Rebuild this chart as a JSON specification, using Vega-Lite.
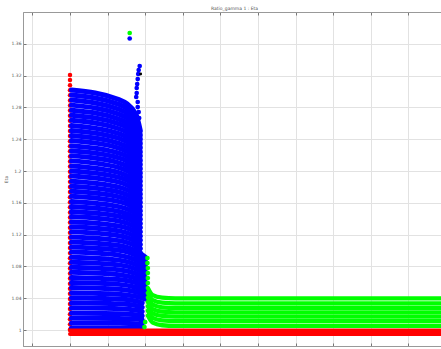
{
  "$schema": "https://vega.github.io/schema/vega-lite/v6.json",
  "autosize": "none",
  "width": 423,
  "height": 334,
  "padding": {"left": 23, "top": 12, "right": 0, "bottom": 3},
  "background": "white",
  "title": {"text": "Ratio_gamma 1 : Eta", "fontSize": 4.5, "font": "DejaVu Sans", "fontWeight": "normal", "color": "#555", "offset": 1.5, "anchor": "middle"},
  "config": {
    "view": {"stroke": "#999", "strokeWidth": 1},
    "axis": {"labelFont": "DejaVu Sans", "labelFontSize": 4.5, "labelColor": "#555", "labelOverlap": false, "titleFont": "DejaVu Sans", "titleFontSize": 4.5, "titleFontWeight": "normal", "titleColor": "#555", "gridColor": "#e2e2e2", "gridWidth": 1, "domainColor": "#999", "tickColor": "#777", "tickSize": -3, "labelPadding": 5}
  },
  "datasets": {
    "redcol": [
      {"x":1,"y":1.3208},{"x":1,"y":1.3144},{"x":1,"y":1.3080},{"x":1,"y":1.3016},{"x":1,"y":1.2952},{"x":1,"y":1.2888},{"x":1,"y":1.2824},{"x":1,"y":1.2760},{"x":1,"y":1.2696},{"x":1,"y":1.2632},{"x":1,"y":1.2568},{"x":1,"y":1.2504},{"x":1,"y":1.2440},{"x":1,"y":1.2376},{"x":1,"y":1.2312},{"x":1,"y":1.2248},{"x":1,"y":1.2184},{"x":1,"y":1.2120},{"x":1,"y":1.2056},{"x":1,"y":1.1992},{"x":1,"y":1.1928},{"x":1,"y":1.1864},{"x":1,"y":1.1800},{"x":1,"y":1.1736},{"x":1,"y":1.1672},{"x":1,"y":1.1608},{"x":1,"y":1.1544},{"x":1,"y":1.1480},{"x":1,"y":1.1416},{"x":1,"y":1.1352},{"x":1,"y":1.1288},{"x":1,"y":1.1224},{"x":1,"y":1.1160},{"x":1,"y":1.1096},{"x":1,"y":1.1032},{"x":1,"y":1.0968},{"x":1,"y":1.0904},{"x":1,"y":1.0840},{"x":1,"y":1.0776},{"x":1,"y":1.0712},{"x":1,"y":1.0648},{"x":1,"y":1.0584},{"x":1,"y":1.0520},{"x":1,"y":1.0456},{"x":1,"y":1.0392},{"x":1,"y":1.0328},{"x":1,"y":1.0264},{"x":1,"y":1.0200},{"x":1,"y":1.0136},{"x":1,"y":1.0072},{"x":1,"y":1.0008}
    ],
    "redlines": [
      {"c":0,"x":1,"y":0.9996},{"c":0,"x":11,"y":0.9996},
      {"c":1,"x":1,"y":0.9950},{"c":1,"x":11,"y":0.9950}
    ],
    "blue": [
      {"c":0,"x":1.04,"y":1.3020},{"c":0,"x":2.3,"y":1.2899},{"c":0,"x":2.75,"y":1.2718},{"c":0,"x":2.87,"y":1.2507},
      {"c":1,"x":1.04,"y":1.2956},{"c":1,"x":2.3,"y":1.2838},{"c":1,"x":2.75,"y":1.2660},{"c":1,"x":2.87,"y":1.2453},
      {"c":2,"x":1.04,"y":1.2893},{"c":2,"x":2.3,"y":1.2777},{"c":2,"x":2.75,"y":1.2604},{"c":2,"x":2.87,"y":1.2401},
      {"c":3,"x":1.04,"y":1.2829},{"c":3,"x":2.3,"y":1.2716},{"c":3,"x":2.75,"y":1.2546},{"c":3,"x":2.87,"y":1.2348},
      {"c":4,"x":1.04,"y":1.2765},{"c":4,"x":2.3,"y":1.2654},{"c":4,"x":2.75,"y":1.2489},{"c":4,"x":2.87,"y":1.2295},
      {"c":5,"x":1.04,"y":1.2701},{"c":5,"x":2.3,"y":1.2593},{"c":5,"x":2.75,"y":1.2431},{"c":5,"x":2.87,"y":1.2242},
      {"c":6,"x":1.04,"y":1.2638},{"c":6,"x":2.3,"y":1.2532},{"c":6,"x":2.75,"y":1.2374},{"c":6,"x":2.87,"y":1.2190},
      {"c":7,"x":1.04,"y":1.2574},{"c":7,"x":2.3,"y":1.2471},{"c":7,"x":2.75,"y":1.2317},{"c":7,"x":2.87,"y":1.2136},
      {"c":8,"x":1.04,"y":1.2510},{"c":8,"x":2.3,"y":1.2410},{"c":8,"x":2.75,"y":1.2259},{"c":8,"x":2.87,"y":1.2083},
      {"c":9,"x":1.04,"y":1.2447},{"c":9,"x":2.3,"y":1.2349},{"c":9,"x":2.75,"y":1.2202},{"c":9,"x":2.87,"y":1.2031},
      {"c":10,"x":1.04,"y":1.2383},{"c":10,"x":2.3,"y":1.2288},{"c":10,"x":2.75,"y":1.2145},{"c":10,"x":2.87,"y":1.1978},
      {"c":11,"x":1.04,"y":1.2319},{"c":11,"x":2.3,"y":1.2226},{"c":11,"x":2.75,"y":1.2087},{"c":11,"x":2.87,"y":1.1925},
      {"c":12,"x":1.04,"y":1.2255},{"c":12,"x":2.3,"y":1.2165},{"c":12,"x":2.75,"y":1.2030},{"c":12,"x":2.87,"y":1.1872},
      {"c":13,"x":1.04,"y":1.2192},{"c":13,"x":2.3,"y":1.2104},{"c":13,"x":2.75,"y":1.1973},{"c":13,"x":2.87,"y":1.1819},
      {"c":14,"x":1.04,"y":1.2128},{"c":14,"x":2.3,"y":1.2043},{"c":14,"x":2.75,"y":1.1915},{"c":14,"x":2.87,"y":1.1766},
      {"c":15,"x":1.04,"y":1.2064},{"c":15,"x":2.3,"y":1.1981},{"c":15,"x":2.75,"y":1.1858},{"c":15,"x":2.87,"y":1.1713},
      {"c":16,"x":1.04,"y":1.2000},{"c":16,"x":2.3,"y":1.1920},{"c":16,"x":2.75,"y":1.1800},{"c":16,"x":2.87,"y":1.1660},
      {"c":17,"x":1.04,"y":1.1937},{"c":17,"x":2.3,"y":1.1860},{"c":17,"x":2.75,"y":1.1743},{"c":17,"x":2.87,"y":1.1608},
      {"c":18,"x":1.04,"y":1.1873},{"c":18,"x":2.3,"y":1.1798},{"c":18,"x":2.75,"y":1.1686},{"c":18,"x":2.87,"y":1.1555},
      {"c":19,"x":1.04,"y":1.1809},{"c":19,"x":2.3,"y":1.1737},{"c":19,"x":2.75,"y":1.1628},{"c":19,"x":2.87,"y":1.1501},
      {"c":20,"x":1.04,"y":1.1746},{"c":20,"x":2.3,"y":1.1676},{"c":20,"x":2.75,"y":1.1571},{"c":20,"x":2.87,"y":1.1449},
      {"c":21,"x":1.04,"y":1.1682},{"c":21,"x":2.3,"y":1.1615},{"c":21,"x":2.75,"y":1.1514},{"c":21,"x":2.87,"y":1.1396},
      {"c":22,"x":1.04,"y":1.1618},{"c":22,"x":2.3,"y":1.1553},{"c":22,"x":2.75,"y":1.1456},{"c":22,"x":2.87,"y":1.1343},
      {"c":23,"x":1.04,"y":1.1554},{"c":23,"x":2.3,"y":1.1492},{"c":23,"x":2.75,"y":1.1399},{"c":23,"x":2.87,"y":1.1290},
      {"c":24,"x":1.04,"y":1.1491},{"c":24,"x":2.3,"y":1.1431},{"c":24,"x":2.75,"y":1.1342},{"c":24,"x":2.87,"y":1.1238},
      {"c":25,"x":1.04,"y":1.1427},{"c":25,"x":2.3,"y":1.1370},{"c":25,"x":2.75,"y":1.1284},{"c":25,"x":2.87,"y":1.1184},
      {"c":26,"x":1.04,"y":1.1363},{"c":26,"x":2.3,"y":1.1308},{"c":26,"x":2.75,"y":1.1227},{"c":26,"x":2.87,"y":1.1131},
      {"c":27,"x":1.04,"y":1.1300},{"c":27,"x":2.3,"y":1.1248},{"c":27,"x":2.75,"y":1.1170},{"c":27,"x":2.87,"y":1.1079},
      {"c":28,"x":1.04,"y":1.1236},{"c":28,"x":2.3,"y":1.1187},{"c":28,"x":2.75,"y":1.1112},{"c":28,"x":2.87,"y":1.1026},
      {"c":29,"x":1.04,"y":1.1172},{"c":29,"x":2.3,"y":1.1125},{"c":29,"x":2.75,"y":1.1055},{"c":29,"x":2.87,"y":1.0973},
      {"c":30,"x":1.04,"y":1.1108},{"c":30,"x":2.3,"y":1.1064},{"c":30,"x":2.75,"y":1.0997},{"c":30,"x":3.0,"y":1.0920},
      {"c":31,"x":1.04,"y":1.1045},{"c":31,"x":2.3,"y":1.1003},{"c":31,"x":2.75,"y":1.0941},{"c":31,"x":3.0,"y":1.0867},
      {"c":32,"x":1.04,"y":1.0981},{"c":32,"x":2.3,"y":1.0942},{"c":32,"x":2.75,"y":1.0883},{"c":32,"x":3.0,"y":1.0814},
      {"c":33,"x":1.04,"y":1.0917},{"c":33,"x":2.3,"y":1.0880},{"c":33,"x":2.75,"y":1.0825},{"c":33,"x":3.0,"y":1.0761},
      {"c":34,"x":1.04,"y":1.0854},{"c":34,"x":2.3,"y":1.0820},{"c":34,"x":2.75,"y":1.0769},{"c":34,"x":3.0,"y":1.0709},
      {"c":35,"x":1.04,"y":1.0790},{"c":35,"x":2.3,"y":1.0758},{"c":35,"x":2.75,"y":1.0711},{"c":35,"x":3.0,"y":1.0656},
      {"c":36,"x":1.04,"y":1.0726},{"c":36,"x":2.3,"y":1.0697},{"c":36,"x":2.75,"y":1.0653},{"c":36,"x":3.0,"y":1.0603},
      {"c":37,"x":1.04,"y":1.0662},{"c":37,"x":2.3,"y":1.0636},{"c":37,"x":2.75,"y":1.0596},{"c":37,"x":3.0,"y":1.0549},
      {"c":38,"x":1.04,"y":1.0599},{"c":38,"x":2.3,"y":1.0575},{"c":38,"x":2.75,"y":1.0539},{"c":38,"x":3.0,"y":1.0497},
      {"c":39,"x":1.04,"y":1.0535},{"c":39,"x":2.3,"y":1.0514},{"c":39,"x":2.75,"y":1.0482},{"c":39,"x":3.0,"y":1.0444},
      {"c":40,"x":1.04,"y":1.0471},{"c":40,"x":2.3,"y":1.0452},{"c":40,"x":2.75,"y":1.0424},{"c":40,"x":3.0,"y":1.0391},
      {"c":41,"x":1.04,"y":1.0408},{"c":41,"x":2.3,"y":1.0392},{"c":41,"x":2.75,"y":1.0367},{"c":41,"x":2.92,"y":1.0339},
      {"c":42,"x":1.04,"y":1.0344},{"c":42,"x":2.3,"y":1.0330},{"c":42,"x":2.75,"y":1.0310},{"c":42,"x":2.92,"y":1.0286},
      {"c":43,"x":1.04,"y":1.0280},{"c":43,"x":2.3,"y":1.0269},{"c":43,"x":2.75,"y":1.0252},{"c":43,"x":2.92,"y":1.0232},
      {"c":44,"x":1.04,"y":1.0216},{"c":44,"x":2.3,"y":1.0207},{"c":44,"x":2.75,"y":1.0194},{"c":44,"x":2.92,"y":1.0179},
      {"c":45,"x":1.04,"y":1.0153},{"c":45,"x":2.3,"y":1.0147},{"c":45,"x":2.75,"y":1.0138},{"c":45,"x":2.92,"y":1.0127},
      {"c":46,"x":1.04,"y":1.0089},{"c":46,"x":2.3,"y":1.0085},{"c":46,"x":2.75,"y":1.0080},{"c":46,"x":2.92,"y":1.0074},
      {"c":47,"x":1.04,"y":1.0025},{"c":47,"x":2.3,"y":1.0024},{"c":47,"x":2.75,"y":1.0023},{"c":47,"x":2.92,"y":1.0021}
    ],
    "green": [
      {"c":0,"x":3.07,"y":1.0529},{"c":0,"x":3.2,"y":1.0439},{"c":0,"x":3.45,"y":1.0407},{"c":0,"x":3.8,"y":1.0399},{"c":0,"x":11,"y":1.0399},
      {"c":1,"x":3.07,"y":1.0467},{"c":1,"x":3.2,"y":1.0377},{"c":1,"x":3.45,"y":1.0345},{"c":1,"x":3.8,"y":1.0337},{"c":1,"x":11,"y":1.0337},
      {"c":2,"x":3.07,"y":1.0409},{"c":2,"x":3.2,"y":1.0319},{"c":2,"x":3.45,"y":1.0287},{"c":2,"x":3.8,"y":1.0279},{"c":2,"x":11,"y":1.0279},
      {"c":3,"x":3.07,"y":1.0354},{"c":3,"x":3.2,"y":1.0264},{"c":3,"x":3.45,"y":1.0232},{"c":3,"x":3.8,"y":1.0224},{"c":3,"x":11,"y":1.0224},
      {"c":4,"x":3.07,"y":1.0300},{"c":4,"x":3.2,"y":1.0210},{"c":4,"x":3.45,"y":1.0178},{"c":4,"x":3.8,"y":1.0170},{"c":4,"x":11,"y":1.0170},
      {"c":5,"x":3.07,"y":1.0243},{"c":5,"x":3.2,"y":1.0153},{"c":5,"x":3.45,"y":1.0121},{"c":5,"x":3.8,"y":1.0113},{"c":5,"x":11,"y":1.0113},
      {"c":6,"x":3.07,"y":1.0183},{"c":6,"x":3.2,"y":1.0093},{"c":6,"x":3.45,"y":1.0061},{"c":6,"x":3.8,"y":1.0053},{"c":6,"x":11,"y":1.0053}
    ],
    "greenpts": [
      {"x":3.06,"y":1.0906},{"x":3.06,"y":1.0843},{"x":3.07,"y":1.0780},{"x":3.07,"y":1.0717},{"x":3.07,"y":1.0654},{"x":3.07,"y":1.0591},{"x":3.0,"y":1.0101},{"x":2.98,"y":1.0038},{"x":2.588,"y":1.3736}
    ],
    "bluepts": [
      {"x":2.854,"y":1.3321},{"x":2.827,"y":1.3270},{"x":2.814,"y":1.3220},{"x":2.801,"y":1.3157},{"x":2.787,"y":1.3094},{"x":2.774,"y":1.3044},{"x":2.774,"y":1.2981},{"x":2.761,"y":1.2931},{"x":2.801,"y":1.2868},{"x":2.801,"y":1.2805},{"x":2.827,"y":1.2742},{"x":2.840,"y":1.2667},{"x":2.588,"y":1.3667}
    ],
    "black": [
      {"x":2.88,"y":1.322}
    ]
  },
  "resolve": {"axis": {"x": "independent"}},
  "layer": [
    {
      "data": {"name": "redcol"},
      "mark": {"type": "point", "filled": true, "opacity": 1, "color": "#ff0000", "size": 20},
      "encoding": {
        "x": {"field": "x", "type": "quantitative", "scale": {"domain": [-0.25, 11], "nice": false, "zero": false}, "axis": {"orient": "bottom", "labels": false, "title": null, "values": [0,1,2,3,4,5,6,7,8,9,10,11], "tickCount": 30, "grid": true}},
        "y": {"field": "y", "type": "quantitative", "scale": {"domain": [0.98, 1.40], "nice": false, "zero": false}, "axis": {"title": "Eta", "values": [1,1.04,1.08,1.12,1.16,1.2,1.24,1.28,1.32,1.36], "tickCount": 30, "format": ".3~g", "grid": true, "titlePadding": 2, "labelOverlap": false, "labelBound": false, "labelFlush": false}}
      }
    },
    {
      "data": {"name": "blue"},
      "mark": {"type": "line", "color": "#0000ff", "strokeWidth": 5, "strokeCap": "round", "strokeJoin": "round", "interpolate": "monotone"},
      "encoding": {
        "x": {"field": "x", "type": "quantitative", "axis": null},
        "y": {"field": "y", "type": "quantitative"},
        "detail": {"field": "c"}
      }
    },
    {
      "data": {"name": "redlines"},
      "mark": {"type": "line", "color": "#ff0000", "strokeWidth": 4, "strokeCap": "round"},
      "encoding": {
        "x": {"field": "x", "type": "quantitative", "axis": null},
        "y": {"field": "y", "type": "quantitative"},
        "detail": {"field": "c"}
      }
    },
    {
      "data": {"name": "green"},
      "mark": {"type": "line", "color": "#00ff00", "strokeWidth": 4.3, "strokeCap": "round", "strokeJoin": "round", "interpolate": "monotone"},
      "encoding": {
        "x": {"field": "x", "type": "quantitative", "axis": null},
        "y": {"field": "y", "type": "quantitative"},
        "detail": {"field": "c"}
      }
    },
    {
      "data": {"name": "greenpts"},
      "mark": {"type": "point", "filled": true, "opacity": 1, "color": "#00ff00", "size": 22},
      "encoding": {
        "x": {"field": "x", "type": "quantitative", "axis": null},
        "y": {"field": "y", "type": "quantitative"}
      }
    },
    {
      "data": {"name": "bluepts"},
      "mark": {"type": "point", "filled": true, "opacity": 1, "color": "#0000ff", "size": 22},
      "encoding": {
        "x": {"field": "x", "type": "quantitative", "axis": null},
        "y": {"field": "y", "type": "quantitative"}
      }
    },
    {
      "data": {"name": "black"},
      "mark": {"type": "point", "filled": true, "opacity": 1, "color": "#000000", "size": 8},
      "encoding": {
        "x": {"field": "x", "type": "quantitative", "axis": {"orient": "top", "labels": false, "title": null, "grid": false, "values": [0,1,2,3,4,5,6,7,8,9,10,11], "tickCount": 30, "domain": false}},
        "y": {"field": "y", "type": "quantitative"}
      }
    }
  ]
}
